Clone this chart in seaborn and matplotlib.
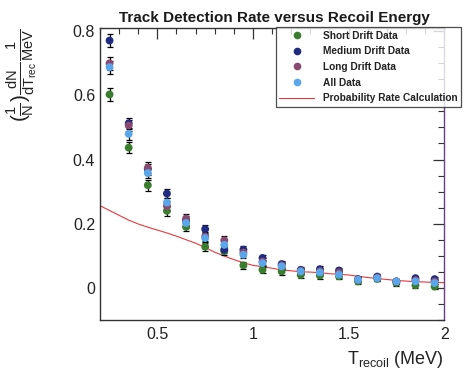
import numpy as np
import pandas as pd
import matplotlib
matplotlib.use("Agg")
import matplotlib.pyplot as plt
import seaborn as sns
from matplotlib.ticker import MultipleLocator
from matplotlib.lines import Line2D

# ---- data ----
energy = [0.25, 0.35, 0.45, 0.55, 0.65, 0.75, 0.85, 0.95, 1.05, 1.15,
          1.25, 1.35, 1.45, 1.55, 1.65, 1.75, 1.85, 1.95]
short_drift = [0.603, 0.437, 0.320, 0.240, 0.190, 0.128, 0.114, 0.070, 0.056, 0.051,
               0.040, 0.038, 0.036, 0.020, 0.028, 0.015, 0.008, 0.004]
medium_drift = [0.771, 0.513, 0.370, 0.294, 0.210, 0.183, 0.119, 0.119, 0.093, 0.074,
                0.056, 0.058, 0.054, 0.027, 0.035, 0.020, 0.030, 0.027]
long_drift = [0.700, 0.506, 0.374, 0.255, 0.216, 0.160, 0.148, 0.110, 0.082, 0.070,
              0.053, 0.052, 0.048, 0.025, 0.032, 0.020, 0.024, 0.020]
all_data = [0.688, 0.480, 0.358, 0.266, 0.202, 0.155, 0.134, 0.103, 0.077, 0.067,
            0.051, 0.048, 0.041, 0.025, 0.030, 0.020, 0.020, 0.015]
errors = [0.020, 0.018, 0.017, 0.015, 0.014, 0.013, 0.012, 0.011, 0.010, 0.010,
          0.009, 0.009, 0.009, 0.008, 0.008, 0.008, 0.008, 0.008]

calc_energy = [0.20, 0.25, 0.30, 0.35, 0.40, 0.45, 0.50, 0.55, 0.60, 0.65, 0.70, 0.75,
               0.80, 0.85, 0.90, 0.95, 1.00, 1.05, 1.10, 1.15, 1.20, 1.25, 1.30, 1.35,
               1.40, 1.45, 1.50, 1.55, 1.60, 1.65, 1.70, 1.75, 1.80, 1.85, 1.90, 1.95, 2.00]
calc_rate = [0.256, 0.241, 0.226, 0.211, 0.199, 0.189, 0.180, 0.171, 0.161, 0.150, 0.139,
             0.126, 0.111, 0.099, 0.088, 0.078, 0.070, 0.066, 0.061, 0.056, 0.053, 0.050,
             0.049, 0.047, 0.044, 0.042, 0.040, 0.036, 0.032, 0.029, 0.026, 0.023, 0.021,
             0.019, 0.018, 0.017, 0.016]

series_names = ["Short Drift Data", "Medium Drift Data", "Long Drift Data", "All Data"]
series_vals = [short_drift, medium_drift, long_drift, all_data]
colors = ["#3b7d2e", "#1f2a80", "#8a4a70", "#5aa6ea"]

rows = []
for name, vals in zip(series_names, series_vals):
    for e, v, err in zip(energy, vals, errors):
        rows.append({"energy": e, "rate": v, "err": err, "series": name})
df = pd.DataFrame(rows)
calc_df = pd.DataFrame({"energy": calc_energy, "rate": calc_rate})

# ---- figure ----
sns.set_style("white")
plt.rcParams["font.family"] = ["Liberation Sans", "DejaVu Sans"]
plt.rcParams["mathtext.fontset"] = "custom"
plt.rcParams["mathtext.rm"] = "Liberation Sans"
plt.rcParams["mathtext.it"] = "Liberation Sans"

fig = plt.figure(figsize=(4.74, 3.79), dpi=100)
ax = fig.add_axes([0.211, 0.156, 0.726, 0.770])

sns.lineplot(data=calc_df, x="energy", y="rate", color="#e8383c", lw=0.8, ax=ax,
             legend=False, zorder=2)

for name, col in zip(series_names, colors):
    sub = df[df.series == name]
    ax.errorbar(sub.energy, sub.rate, yerr=sub.err, fmt="none", ecolor="black",
                elinewidth=0.9, capsize=2, capthick=0.9, zorder=3)
sns.scatterplot(data=df, x="energy", y="rate", hue="series", palette=colors,
                hue_order=series_names, s=32, edgecolor="none", ax=ax, legend=False,
                zorder=4)

ax.set_xlim(0.2, 2.0)
ax.set_ylim(-0.1, 0.81)
ax.xaxis.set_major_locator(MultipleLocator(0.5))
ax.xaxis.set_minor_locator(MultipleLocator(0.1))
ax.yaxis.set_major_locator(MultipleLocator(0.2))
ax.yaxis.set_minor_locator(MultipleLocator(0.05))
ax.set_xticks([0.5, 1.0, 1.5, 2.0])
ax.set_xticklabels(["0.5", "1", "1.5", "2"])
ax.set_yticks([0, 0.2, 0.4, 0.6, 0.8])
ax.set_yticklabels(["0", "0.2", "0.4", "0.6", "0.8"])
ax.tick_params(which="both", direction="in", top=True, right=True, colors="#333333",
               labelcolor="#222222", labelsize=11.5)
ax.tick_params(which="major", length=8, width=0.9)
ax.tick_params(which="minor", length=4, width=0.8)
ax.tick_params(axis="x", pad=5)
for s in ax.spines.values():
    s.set_color("#333333")
    s.set_linewidth(1.0)
ax.spines["right"].set_color("#6a3d8a")

ax.set_xlabel("")
ax.set_ylabel("")
fig.text(0.937, 0.025, r"T$_{\rm recoil}$ (MeV)", ha="right", va="bottom", fontsize=13,
         color="#222222")
fig.text(0.045, 0.80, r"$(\frac{1}{N})\frac{dN}{dT_{rec}}\frac{1}{MeV}$", rotation=90,
         ha="center", va="center", fontsize=15, color="#222222")
fig.text(0.58, 0.952, "Track Detection Rate versus Recoil Energy", ha="center",
         va="center", fontsize=11, fontweight="bold", color="#1a1a1a")

handles = [Line2D([], [], ls="none", marker="o", ms=4.5, color=c) for c in colors]
handles.append(Line2D([], [], color="#e8383c", lw=0.8))
labels = series_names + ["Probability Rate Calculation"]
leg = fig.legend(handles, labels, loc="upper left", bbox_to_anchor=(0.582, 0.928),
                 frameon=True, fancybox=False, fontsize=7.3, borderpad=0.35,
                 labelspacing=0.55, handlelength=3.4, handletextpad=0.9,
                 borderaxespad=0)
leg.get_frame().set_edgecolor("#222222")
leg.get_frame().set_linewidth(0.9)
for t in leg.get_texts():
    t.set_fontweight("bold")
    t.set_color("#222222")

fig.savefig("out.png", dpi=100, facecolor="white")
